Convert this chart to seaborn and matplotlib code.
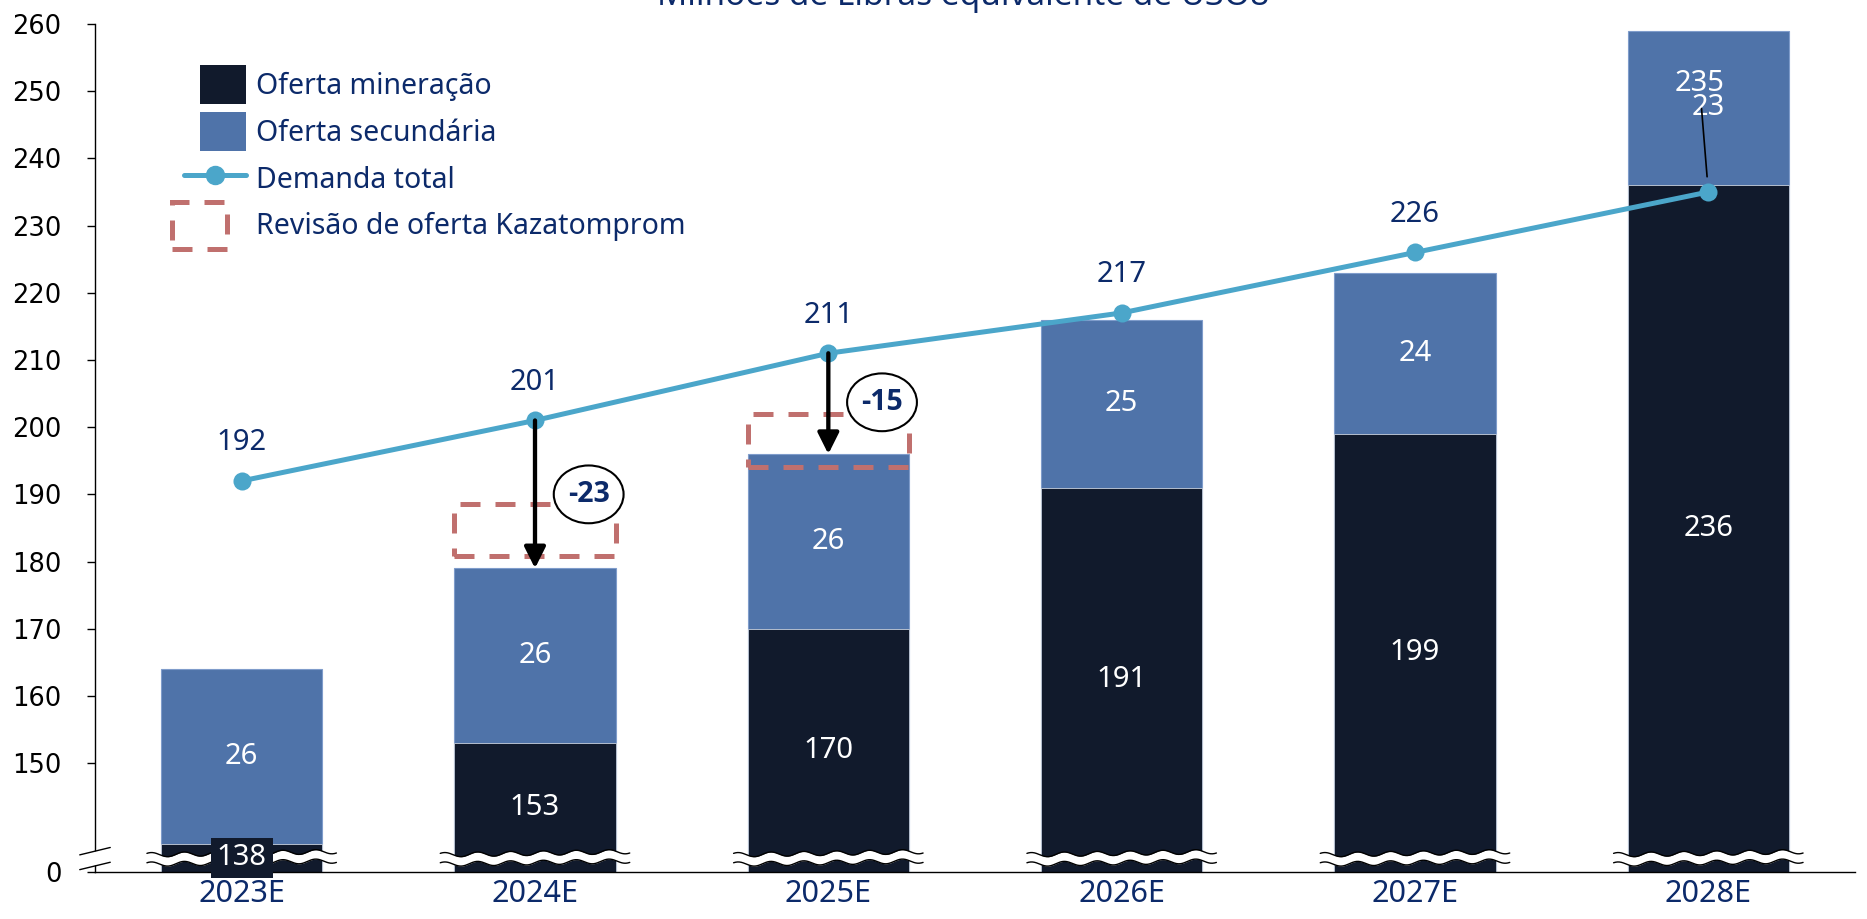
import numpy as np
import matplotlib
matplotlib.use("Agg")
import matplotlib.pyplot as plt
import seaborn as sns
from matplotlib.patches import Rectangle, Ellipse, Patch
from matplotlib.lines import Line2D
from matplotlib.legend_handler import HandlerPatch

# ---- data (million lbs U3O8 equivalent) ----
years = ["2023E", "2024E", "2025E", "2026E", "2027E", "2028E"]
mining = [138, 153, 170, 191, 199, 236]
secondary = [26, 26, 26, 25, 24, 23]
demand = [192, 201, 211, 217, 226, 235]
ytick_values = [150, 160, 170, 180, 190, 200, 210, 220, 230, 240, 250, 260]

# Kazatomprom supply revision boxes and supply gaps
rev_years = ["2024E", "2025E"]
rev_low = [180.8, 194.1]
rev_high = [188.6, 201.9]
gap_labels = ["-23", "-15"]
gap_label_y = [190.0, 203.7]

axis_floor = 133.8   # broken axis: the bottom of the scale is labelled 0

# ---- style ----
C_MINING = "#111a2c"
C_SECOND = "#4f73a9"
C_DEMAND = "#4ba6ca"
C_NAVY = "#0c2a6a"
C_REV = "#c0706e"

sns.set_theme(style="white")
plt.rcParams["font.family"] = ["Noto Sans", "DejaVu Sans"]

W, H = 1867, 919
fig = plt.figure(figsize=(W / 100, H / 100), dpi=100)
ax = fig.add_axes([95 / W, 47 / H, (1855 - 95) / W, (872 - 24) / H])

totals = [m + s for m, s in zip(mining, secondary)]
pos = np.arange(len(years))
bar_w = 0.55

sns.barplot(x=years, y=totals, color=C_SECOND, saturation=1, width=bar_w,
            edgecolor="#7f9ccb", linewidth=0.8, ax=ax, zorder=2)
sns.barplot(x=years, y=mining, color=C_MINING, saturation=1, width=bar_w,
            edgecolor="#c9d1de", linewidth=0.6, ax=ax, zorder=2)
sns.pointplot(x=years, y=demand, color=C_DEMAND, errorbar=None,
              markers="o", linewidth=3.6, markersize=13,
              markeredgewidth=0, ax=ax, zorder=6)

ax.set_xlim(-0.5, len(years) - 0.5)
ax.set_ylim(axis_floor, 260)

# ---- broken-bar waves ----
def wave_band(xc):
    half = bar_w / 2 + 0.048
    xs = np.linspace(xc - half, xc + half, 300)
    mid = 135.9 + 0.76 * (xs - xc) + 0.33 * np.sin(2 * np.pi * (xs - xc) / 0.112)
    ax.fill_between(xs, mid - 0.7, mid + 0.7, color="white", lw=0, zorder=4)
    ax.plot(xs, mid + 0.7, color="black", lw=1.0, zorder=5)
    ax.plot(xs, mid - 0.7, color="black", lw=1.0, zorder=5)

for p in pos:
    wave_band(p)

# axis break marks on the y spine
bx = np.array([-0.5 - 0.052, -0.5 + 0.052])
ax.fill_between(bx, [134.3, 135.4], [136.4, 137.5], color="white", lw=0,
                zorder=4, clip_on=False)
ax.plot(bx, [136.35, 137.45], color="black", lw=1.0, zorder=5, clip_on=False)
ax.plot(bx, [134.15, 135.25], color="black", lw=1.0, zorder=5, clip_on=False)

# ---- value labels ----
lab_fs = 21
for i in pos:
    m, s = mining[i], secondary[i]
    mid_m = (axis_floor + m) / 2
    kw = {}
    if m - axis_floor < 8:
        kw["bbox"] = dict(boxstyle="square,pad=0.2", fc=C_MINING, ec="none")
    ax.text(i, mid_m, str(m), color="white", ha="center", va="center",
            fontsize=lab_fs, zorder=7, **kw)
    ax.text(i, m + s / 2, str(s), color="white", ha="center", va="center",
            fontsize=lab_fs, zorder=7)

for i in pos:
    if i == len(years) - 1:
        ax.annotate(str(demand[i]), xy=(i, demand[i]), xytext=(i - 0.03, 251.1),
                    color="white", ha="center", va="center", fontsize=lab_fs,
                    zorder=8,
                    arrowprops=dict(arrowstyle="-", color="black", lw=1.2,
                                    shrinkA=5, shrinkB=11))
    else:
        ax.annotate(str(demand[i]), xy=(i, demand[i]), xytext=(0, 27.5),
                    textcoords="offset points", color=C_NAVY, ha="center",
                    va="center", fontsize=lab_fs, zorder=8)

# ---- Kazatomprom revision boxes, gap arrows and gap bubbles ----
for yr, lo, hi, glab, gy in zip(rev_years, rev_low, rev_high, gap_labels, gap_label_y):
    i = years.index(yr)
    ax.add_patch(Rectangle((i - bar_w / 2, lo), bar_w, hi - lo, fill=False,
                           ec=C_REV, lw=3.6, ls=(0, (4, 3)), zorder=3))
    ax.annotate("", xy=(i, totals[i]), xytext=(i, demand[i]),
                arrowprops=dict(arrowstyle="-|>", color="black", lw=3.1,
                                mutation_scale=32, shrinkA=0, shrinkB=0),
                zorder=7)
    ex = i + 0.183
    ax.add_patch(Ellipse((ex, gy), 0.238, 8.6, fc="white", ec="black",
                         lw=1.5, zorder=8))
    ax.text(ex, gy, glab, color=C_NAVY, fontsize=20.5, fontweight="bold",
            family=["Open Sans", "DejaVu Sans"],
            ha="center", va="center", zorder=9)

# ---- axes ----
ax.set_yticks([axis_floor] + ytick_values)
ax.set_yticklabels(["0"] + [str(v) for v in ytick_values])
ax.tick_params(axis="y", length=6, width=1, color="black", pad=18,
               labelsize=18.5, labelcolor="black", left=True)
for t in ax.get_yticklabels():
    t.set_fontfamily(["DejaVu Sans"])
ax.tick_params(axis="x", length=0, pad=5, labelsize=22, labelcolor=C_NAVY)
ax.set_xlabel("")
ax.set_ylabel("")
sns.despine(ax=ax, top=True, right=True)
for side in ("left", "bottom"):
    ax.spines[side].set_color("black")
    ax.spines[side].set_linewidth(1.0)

# ---- title (cut at the top edge) ----
fig.text(963 / W, 1 - 5 / H, "Milhões de Libras equivalente de U3O8",
         color=C_NAVY, fontsize=24, ha="center", va="baseline")

# ---- legend ----
def square_patch(legend, orig_handle, xdescent, ydescent, width, height, fontsize):
    w, h = 46 * 0.72, 39 * 0.72
    return Rectangle((-xdescent + width - w, -ydescent + (height - h) / 2), w, h)

def dashed_box(legend, orig_handle, xdescent, ydescent, width, height, fontsize):
    w, h = 55 * 0.72, 47 * 0.72
    return Rectangle((-xdescent - 12 * 0.72, -ydescent + (height - h) / 2), w, h)

h_mining = Patch(facecolor=C_MINING, edgecolor="none")
h_second = Patch(facecolor=C_SECOND, edgecolor="none")
h_demand = Line2D([], [], color=C_DEMAND, lw=3.6, marker="o", markersize=13)
h_rev = Patch(facecolor="none", edgecolor=C_REV, lw=3.6, linestyle=(0, (4, 3)))

ax.legend(handles=[h_mining, h_second, h_demand, h_rev],
          labels=["Oferta mineração", "Oferta secundária", "Demanda total",
                  "Revisão de oferta Kazatomprom"],
          handler_map={h_mining: HandlerPatch(patch_func=square_patch),
                       h_second: HandlerPatch(patch_func=square_patch),
                       h_rev: HandlerPatch(patch_func=dashed_box)},
          loc="upper left", bbox_to_anchor=(184 / W, 1 - 68 / H),
          bbox_transform=fig.transFigure, frameon=False, fontsize=20.5,
          labelcolor=C_NAVY, borderpad=0, borderaxespad=0,
          handlelength=2.18, handleheight=1.4, handletextpad=0.35,
          labelspacing=0.49, numpoints=1)

fig.savefig("out.png", dpi=100, facecolor="white")
